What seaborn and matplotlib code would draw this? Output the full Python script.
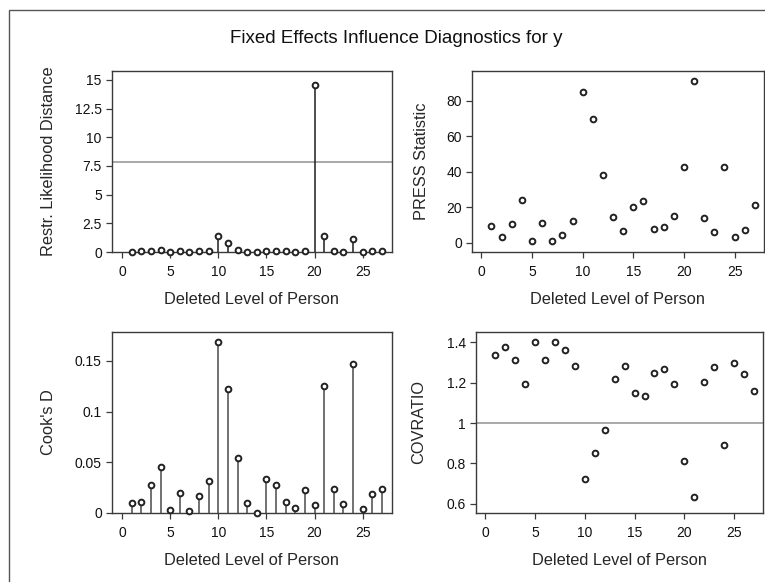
import numpy as np
import pandas as pd
import matplotlib
matplotlib.use("Agg")
import matplotlib.pyplot as plt
import seaborn as sns
from matplotlib.ticker import FuncFormatter
from matplotlib.patches import Rectangle

# ---------------- data ----------------
person = list(range(1, 28))
rld = [0.02, 0.06, 0.06, 0.15, 0.01, 0.06, 0.01, 0.06, 0.06, 1.42,
       0.78, 0.17, 0.01, 0.01, 0.06, 0.06, 0.06, 0.02, 0.06, 14.53,
       1.42, 0.06, 0.01, 1.10, 0.01, 0.06, 0.06]
press = [9.2, 3.0, 10.5, 24.0, 0.9, 11.3, 0.9, 4.5, 12.4, 85.1,
         69.5, 38.3, 14.6, 6.4, 19.9, 23.5, 7.7, 8.6, 15.2, 42.4,
         91.3, 13.9, 5.8, 42.4, 3.0, 7.1, 21.4]
cooksd = [0.0098, 0.0108, 0.0276, 0.0453, 0.0030, 0.0194, 0.0016, 0.0171, 0.0312, 0.1684,
          0.1224, 0.0538, 0.0098, 0.0000, 0.0335, 0.0276, 0.0108, 0.0049, 0.0226, 0.0075,
          0.1257, 0.0240, 0.0089, 0.1474, 0.0039, 0.0184, 0.0240]
covratio = [1.339, 1.380, 1.314, 1.196, 1.403, 1.314, 1.403, 1.362, 1.284, 0.721,
            0.854, 0.968, 1.218, 1.284, 1.147, 1.135, 1.248, 1.266, 1.195, 0.812,
            0.631, 1.206, 1.277, 0.890, 1.296, 1.243, 1.159]

x_ticks = [0, 5, 10, 15, 20, 25]
rld_ticks = [0, 2.5, 5, 7.5, 10, 12.5, 15]
press_ticks = [0, 20, 40, 60, 80]
cook_ticks = [0, 0.05, 0.1, 0.15]
cov_ticks = [0.6, 0.8, 1.0, 1.2, 1.4]
rld_ref = 7.85
cov_ref = 1.0

title = "Fixed Effects Influence Diagnostics for y"
x_label = "Deleted Level of Person"
y_labels = ["Restr. Likelihood Distance", "PRESS Statistic", "Cook's D", "COVRATIO"]

df = pd.DataFrame({"person": person, "rld": rld, "press": press,
                   "cooksd": cooksd, "covratio": covratio})

# ---------------- style ----------------
sns.set_theme(style="ticks")
plt.rcParams['font.family'] = ['Liberation Sans', 'DejaVu Sans']
plt.rcParams['text.color'] = '#111111'

W, H = 765, 582
fig = plt.figure(figsize=(W / 100, H / 100), dpi=100)
fig.patch.set_facecolor('white')


def add_ax(l, r, t, b):
    return fig.add_axes([l / W, 1 - b / H, (r - l) / W, (b - t) / H])


SPINE = '#3a3a3a'
MK = '#222222'
REF = '#999999'
fmt = FuncFormatter(lambda v, p: f"{v:g}")


def style_ax(ax, ylab, ylabx, yticks, ylim, xlim):
    ax.set_facecolor('white')
    for s in ax.spines.values():
        s.set_visible(True)
        s.set_color(SPINE)
        s.set_linewidth(1.0)
    ax.set_xlim(*xlim)
    ax.set_ylim(*ylim)
    ax.set_xticks(x_ticks)
    ax.set_yticks(yticks)
    ax.xaxis.set_major_formatter(fmt)
    ax.yaxis.set_major_formatter(fmt)
    ax.tick_params(axis='both', direction='out', length=4.3, width=0.9,
                   color=SPINE, labelsize=10, labelcolor='#111111')
    ax.tick_params(axis='x', pad=5)
    ax.tick_params(axis='y', pad=3)
    ax.set_xlabel(x_label, fontsize=11.8, va='center')
    ax.set_ylabel(ylab, fontsize=11.8, va='center')
    ax.xaxis.set_label_coords(0.5, -0.26)
    ax.yaxis.set_label_coords(ylabx, 0.5)


def points(ax, col):
    sns.scatterplot(data=df, x="person", y=col, ax=ax, marker='o', s=17,
                    facecolor='white', edgecolor=MK, linewidth=1.4,
                    zorder=4, clip_on=False, legend=False)


# top-left: restricted likelihood distance
ax1 = add_ax(112, 392, 71, 252)
ax1.vlines(df["person"], 0, df["rld"], color='#1e1e1e', lw=1.1, zorder=3)
ax1.axhline(rld_ref, color=REF, lw=1.2, zorder=2)
points(ax1, "rld")
style_ax(ax1, y_labels[0], -0.228, rld_ticks, (0, 15.78), (-1.04, 28.05))

# top-right: PRESS
ax2 = add_ax(472, 764, 71, 252)
points(ax2, "press")
style_ax(ax2, y_labels[1], -0.172, press_ticks, (-5.3, 96.7), (-0.92, 27.9))

# bottom-left: Cook's D
ax3 = add_ax(112, 392, 332, 513)
ax3.vlines(df["person"], 0, df["cooksd"], color='#4a4a4a', lw=1.1, zorder=3)
points(ax3, "cooksd")
style_ax(ax3, y_labels[2], -0.228, cook_ticks, (0, 0.1786), (-1.04, 28.05))

# bottom-right: COVRATIO
ax4 = add_ax(476, 763, 332, 513)
ax4.axhline(cov_ref, color=REF, lw=1.2, zorder=2)
points(ax4, "covratio")
style_ax(ax4, y_labels[3], -0.199, cov_ticks, (0.554, 1.452), (-0.93, 27.9))

# outer frame (top and left edges visible)
fig.add_artist(Rectangle((9 / W, -0.1), 1.2, 1 - 10 / H + 0.1,
                         transform=fig.transFigure, fill=False,
                         edgecolor='#555555', lw=1.0))

fig.text(230 / W, 1 - 42.7 / H, title, ha='left', va='baseline',
         fontsize=13.5, color='#111111')

fig.savefig("out.png", dpi=100)
